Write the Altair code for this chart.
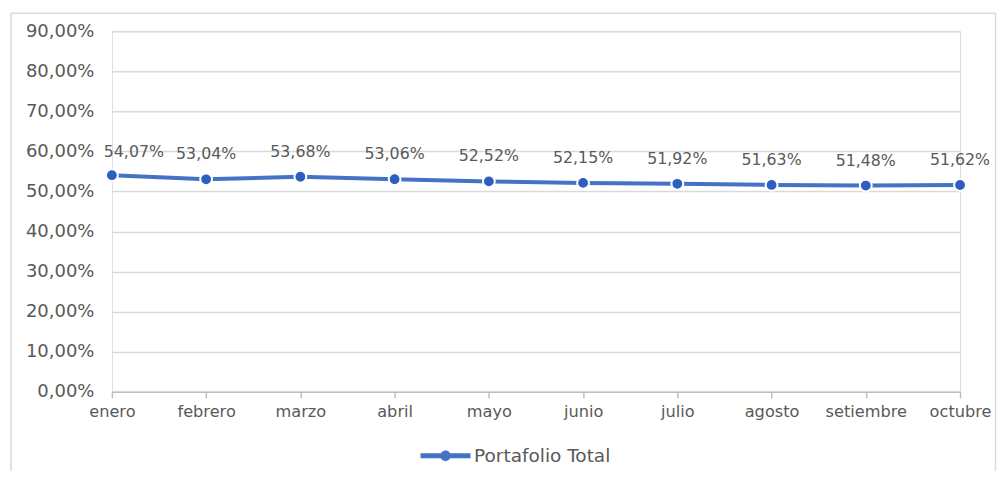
import altair as alt
import pandas as pd

months = ["enero", "febrero", "marzo", "abril", "mayo", "junio", "julio",
          "agosto", "setiembre", "octubre"]
values_pct = [54.07, 53.04, 53.68, 53.06, 52.52, 52.15, 51.92, 51.63, 51.48, 51.62]
series_name = "Portafolio Total"
y_tick_values = [0, 0.1, 0.2, 0.3, 0.4, 0.5, 0.6, 0.7, 0.8, 0.9]

df = pd.DataFrame({
    "mes": months,
    "valor": [v / 100 for v in values_pct],
    "serie": [series_name] * len(months),
})

FONT = "DejaVu Sans"
GRAY = "#595959"
LINE = "#4472C4"

W, H = 849, 361

x_enc = alt.X("mes:N", sort=months, title=None,
              scale=alt.Scale(padding=0),
              axis=alt.Axis(labelAngle=0, domainColor="#bfbfbf", domainWidth=1.5,
                            tickColor="#bfbfbf", tickSize=6, tickWidth=1.5,
                            labelPadding=6, labelFontSize=16.2, labelColor=GRAY,
                            labelFont=FONT, grid=False))
y_enc = alt.Y("valor:Q", title=None,
              scale=alt.Scale(domain=[0, 0.9], nice=False),
              axis=alt.Axis(values=y_tick_values,
                            labelExpr="replace(format(datum.value, '.2%'), '.', ',')",
                            domain=False, ticks=False, grid=True,
                            gridColor="#d9d9d9", gridWidth=1.5,
                            labelPadding=18, labelFontSize=18, labelColor=GRAY,
                            labelFont=FONT))

base = alt.Chart(df).encode(x=x_enc, y=y_enc)

line = base.mark_line(strokeWidth=4).encode(
    color=alt.Color("serie:N", scale=alt.Scale(range=[LINE]),
                    legend=alt.Legend(
                        title=None, orient="none", legendX=321.5, legendY=412.5,
                        padding=0,
                        symbolType="M-2,-0.2H2V0.2H-2Z M0.42,0A0.42,0.42,0,1,1,-0.42,0A0.42,0.42,0,1,1,0.42,0Z",
                        symbolSize=625, symbolStrokeWidth=0, symbolFillColor=LINE,
                        labelOffset=16, labelFontSize=18.5, labelColor=GRAY,
                        labelFont=FONT))
)

points = base.mark_point(filled=True, size=140, fill="#2E5EBF", stroke="white",
                         strokeWidth=2, opacity=1)

label_base = base.transform_calculate(
    etiqueta="replace(format(datum.valor, '.2%'), '.', ',')"
)
labels_first = label_base.transform_filter(alt.datum.mes == months[0]).mark_text(
    dy=-23, dx=22, fontSize=15.8, color=GRAY, font=FONT).encode(text="etiqueta:N")
labels_rest = label_base.transform_filter(alt.datum.mes != months[0]).mark_text(
    dy=-25, fontSize=15.8, color=GRAY, font=FONT).encode(text="etiqueta:N")

frame_df = pd.DataFrame({"k": [0]})
frame_top = alt.Chart(frame_df).mark_rule(color="#d9d9d9", strokeWidth=1.5).encode(
    x=alt.value(-101), x2=alt.value(884.5), y=alt.value(-18))
frame_left = alt.Chart(frame_df).mark_rule(color="#d9d9d9", strokeWidth=1.5).encode(
    x=alt.value(-101), y=alt.value(-18), y2=alt.value(440))
frame_right = alt.Chart(frame_df).mark_rule(color="#d9d9d9", strokeWidth=1.5).encode(
    x=alt.value(884.5), y=alt.value(-18), y2=alt.value(440))

chart = alt.layer(frame_top, frame_left, frame_right, line, points,
                  labels_first, labels_rest).properties(
    width=W, height=H,
    padding={"left": 2, "top": 4, "right": 0, "bottom": 0},
).configure_view(stroke=None).configure(background="white")

chart.save("out.html", embed_options={"renderer": "svg", "actions": False})
